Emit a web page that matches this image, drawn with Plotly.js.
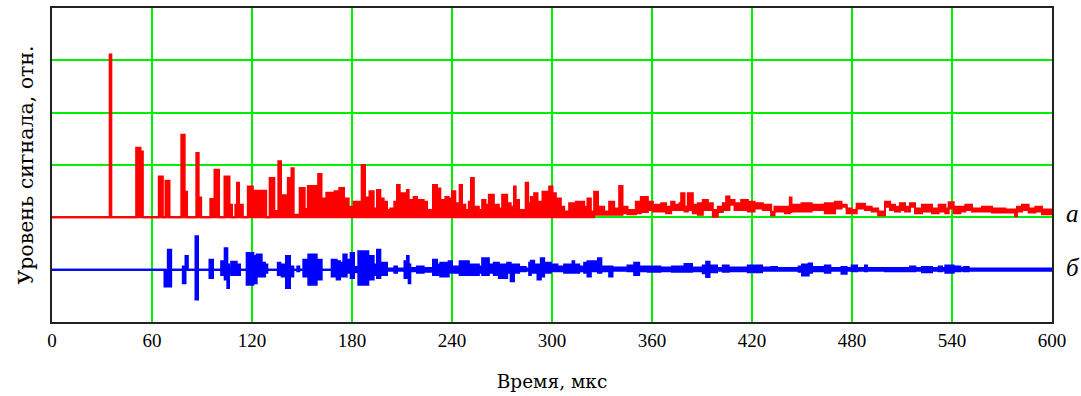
<!DOCTYPE html>
<html>
<head>
<meta charset="utf-8">
<script src="https://cdn.plot.ly/plotly-3.0.1.min.js"></script>
<style>html,body{margin:0;padding:0;background:#fff;}#chart{width:1081px;height:396px;}</style>
</head>
<body>
<div id="chart"></div>
<script>
// Red signal (a): segment start times (µs), upper and lower envelope levels
const redT = [0,34.6,35.6,50.5,53.1,54.5,64.1,66.5,68.1,70.5,77.6,79.6,81,86.6,88,89.5,95,97.5,100.2,103.5,106.5,108,110,111,112.2,114.5,117.5,120.5,128.5,130.6,133.4,135.8,137.4,141.5,143.7,145,148.6,151.6,153.5,159.7,161.7,164.6,169.6,171.5,172.4,175.2,178,181,185.8,187.8,190.5,
193,195,197,199,201,203,205.4,207,208.6,213,214,217,219,223,225,228.6,231,233,236,238,240,242,244.6,246,248,250.1,251.4,253.1,256.1,258.1,260.1,262.1,265.1,268.1,270.1,273.1,
275.2,277.2,278.2,280.2,284.2,285.7,287.3,289.3,291.3,294.3,297.3,298.3,300.3,302.3,305.3,307.3,310.3,314.3,319.3,321.3,323.3,325.3,327.6,331.3,334.3,337.3,340.3,342.3,345.3,350.3,353.3,
357.5,360.5,365.5,368.5,371.5,373.5,376.5,377.5,379.5,381.5,384.5,387.5,390.5,393.5,396.5,399.5,402.5,404.5,406.5,409.5,413.5,417.5,421.5,426.5,431.5,433.5,
439.7,442.7,443.7,449.7,455.8,463.7,469.8,473.7,476.8,479.8,482.8,487.8,491.8,495.7,499.8,502.8,505.8,508.8,511.8,514.8,517.8,
522,528,532,536,538,541,545,548,552,558,564,572,578,579,582,586,590,594];
const redHi = [0,3.11,0,1.33,1.26,0,0.78,0,0.70,0,1.58,0.49,0,1.23,0.38,0,0.35,0.91,0,0.78,0.24,0,0.24,0.66,0.24,0,0.59,0.51,0,0.75,0.12,1.07,0.42,0.75,0.94,0.05,0.56,0.16,0.6,0.83,0.36,0.47,0.5,0.3,0.56,0.36,0.2,0.3,1.0,0.38,0.5,
0.17,0.52,0.36,0.3,0.14,0.17,0.3,0.62,0.46,0.52,0.33,0.39,0.33,0.3,0.14,0.62,0.55,0.33,0.39,0.36,0.5,0.27,0.62,0.24,0.14,0.3,0.75,0.2,0.14,0.33,0.24,0.43,0.24,0.17,0.43,0.27,
0.2,0.59,0.33,0.14,0.66,0.27,0.39,0.46,0.3,0.49,0.36,0.59,0.46,0.36,0.2,0.11,0.27,0.3,0.2,0.36,0.11,0.49,0.2,0.11,0.3,0.17,0.6,0.2,0.14,0.3,0.39,
0.3,0.24,0.27,0.2,0.3,0.24,0.27,0.46,0.2,0.46,0.24,0.27,0.33,0.27,0.14,0.2,0.27,0.4,0.33,0.27,0.33,0.3,0.27,0.24,0.1,0.2,
0.2,0.38,0.24,0.27,0.24,0.27,0.3,0.24,0.17,0.14,0.26,0.2,0.17,0.11,0.3,0.24,0.2,0.27,0.2,0.27,0.17,
0.24,0.17,0.24,0.17,0.29,0.2,0.2,0.24,0.17,0.2,0.17,0.15,0.04,0.2,0.24,0.17,0.2,0.15];
const redLo = [0,0,0,0,0,0,0,0,0,0,0,0,0,0,0,0,0,0,0,0,0,0,0,0,0,0,0,0,0,0,0,0,0,0,0,0,0,0,0,0,0,0,0,0,0,0,0,0,0,0,0,
0,0,0,0,0,0,0,0,0,0,0,0,0,0,0,0,0,0,0,0,0,0,0,0,0,0,0,0,0,0,0,0,0,0,0,0,
0,0,0,0,0,0,0,0,0,0,0,0,0,0,0,0,0,0,0,0,0,0.05,0.05,0.05,0.05,0.05,0.05,0.08,0.06,0.08,0.1,
0.14,0.11,0.11,0.08,0.14,0.14,0.14,0.14,0.11,0.14,0.08,0.05,0.14,0.14,0.01,0.1,0.14,0.14,0.24,0.14,0.14,0.11,0.17,0.14,0.04,0.11,
0.08,0.1,0.11,0.11,0.14,0.08,0.17,0.2,0.08,0.08,0.17,0.14,0.11,0.04,0.2,0.14,0.11,0.14,0.11,0.2,0.08,
0.11,0.08,0.11,0.08,0.17,0.08,0.11,0.14,0.11,0.11,0.09,0.09,0.02,0.11,0.14,0.09,0.11,0.06];

// Blue signal (б): segment start times (µs), excursion above / below its baseline
const blueT = [0,67.5,69.5,71.5,78.5,80.1,81.5,86.1,87.6,94.5,96.6,101.5,103,103.6,105.2,106.2,107.5,
110.8,112.8,116.8,120.8,122.8,125.8,127.8,129.2,135.5,137,137.8,140.4,142.8,144.8,147.2,148.4,150.8,153.8,158.8,161.8,167.8,170.8,172.8,174.8,176.8,179.2,181.2,183.8,189.8,
193,195,197,201,205.4,207,211.5,213,214,215,219,223,228.6,231,233,238,240,244.6,250.1,256.1,258.1,262.1,265.1,268.1,273.1,
275.2,277.2,280.2,284.2,286.3,287.3,289.3,291.3,293.3,295.3,299.3,303.3,307.3,312.3,313.3,316.3,319.3,321.3,323.3,327.6,329.6,334.3,336.3,345.3,349.3,352.3,
357.5,365,372,379.5,384,390.5,392.5,394.5,399,402.5,406,417.5,426,431.5,435,
439.7,448,450,454,456,463.7,467,473.7,476.8,479.8,483,487.8,489,499.8,514.8,518,
522,528,532,534,536,541,545,547,550];
const blueUp = [0,0,0.38,0,0.06,0.26,0,0.64,0,0.19,0,0.16,0.05,0.41,0.1,0.05,0.15,
0.1,0,0.32,0.26,0.29,0.13,0.1,0,0.13,0,0.1,0.26,0.06,0,0.06,0,0.19,0.29,0.19,0,0.19,0.16,0.13,0.29,0.19,0.32,0.05,0.35,0.26,
0.1,0.38,0.13,0.02,0.06,0.02,0.16,0.26,0.1,0.03,0.06,0.03,0.19,0.1,0.13,0.16,0.06,0.16,0.1,0.06,0.22,0.1,0.13,0.1,0.13,
0.1,0.1,0.05,0.02,0.13,0.17,0.1,0.1,0.22,0.13,0.1,0.06,0.1,0.16,0.1,0.06,0.13,0.16,0.16,0.22,0.06,0.06,0.04,0.08,0.13,0.06,
0.06,0.04,0.06,0.11,0.04,0.08,0.15,0.08,0.03,0.08,0.04,0.08,0.04,0.05,0.03,
0.03,0.06,0.1,0.12,0.05,0.08,0.03,0.05,0.03,0.08,0.03,0.08,0.03,0.03,0.06,0.03,
0.05,0.03,0.06,0.03,0.08,0.06,0.03,0.05,0.02];
const blueDn = [0,0.32,0.32,0,0.26,0,0,0.57,0,0.16,0,0.1,0.05,0.19,0.35,0.05,0.1,
0.1,0,0.29,0.26,0.13,0.13,0.06,0,0.1,0,0.13,0.35,0.13,0,0.03,0,0.13,0.29,0.19,0,0.13,0.19,0.13,0.13,0.06,0.16,0.05,0.29,0.19,
0.1,0.16,0.1,0.02,0.06,0.02,0.16,0.1,0.26,0.03,0.06,0.04,0.1,0.1,0.13,0.06,0.06,0.1,0.1,0.06,0.1,0.06,0.1,0.16,0.06,
0.22,0.06,0.03,0.02,0.1,0.06,0.06,0.19,0.13,0.06,0.03,0.03,0.06,0.06,0.06,0.03,0.06,0.13,0.03,0.06,0.03,0.13,0.02,0.03,0.1,0.03,
0.04,0.03,0.04,0.04,0.03,0.07,0.14,0.05,0.02,0.04,0.03,0.05,0.02,0.02,0.02,
0.02,0.04,0.11,0.06,0.03,0.06,0.02,0.08,0.02,0.03,0.02,0.03,0.02,0.03,0.03,0.02,
0.05,0.02,0.03,0.02,0.06,0.03,0.02,0.03,0.02];

const tEnd = 600;
const redBase = 0, blueBase = -1;
const xTicks = [0,60,120,180,240,300,360,420,480,540,600];

function stepXY(T, V, base, sign) {
  const x = T.concat([tEnd]);
  const y = V.map(v => base + sign * v);
  y.push(y[y.length - 1]);
  return {x, y};
}

const rLo = stepXY(redT, redLo, redBase, 1);
const rHi = stepXY(redT, redHi, redBase, 1);
const bDn = stepXY(blueT, blueDn, blueBase, -1);
const bUp = stepXY(blueT, blueUp, blueBase, 1);

const RED = '#ff0000', BLUE = '#0000ff';
const LW = 2;
const data = [
  {x: rLo.x, y: rLo.y, mode: 'lines', line: {shape: 'hv', color: RED, width: LW}, hoverinfo: 'skip'},
  {x: rHi.x, y: rHi.y, mode: 'lines', line: {shape: 'hv', color: RED, width: LW}, fill: 'tonexty', fillcolor: RED, hoverinfo: 'skip'},
  {x: bDn.x, y: bDn.y, mode: 'lines', line: {shape: 'hv', color: BLUE, width: LW}, hoverinfo: 'skip'},
  {x: bUp.x, y: bUp.y, mode: 'lines', line: {shape: 'hv', color: BLUE, width: LW}, fill: 'tonexty', fillcolor: BLUE, hoverinfo: 'skip'}
];

const FONT = 'Liberation Serif, Times New Roman, serif';
const TFONT = 'DejaVu Serif, Liberation Serif, serif';
const layout = {
  width: 1081, height: 396,
  margin: {l: 52, r: 29, t: 8, b: 74},
  paper_bgcolor: '#fff', plot_bgcolor: '#fff',
  showlegend: false,
  font: {family: FONT, color: '#000', size: 17},
  xaxis: {
    range: [0, 600], tickvals: xTicks, ticktext: xTicks.map(String),
    showgrid: true, gridcolor: '#00ee00', gridwidth: 2,
    zeroline: false, showline: true, mirror: true, linecolor: '#222', linewidth: 2,
    ticks: '', tickfont: {family: FONT, size: 19, color: '#000'},
    title: {text: 'Время, мкс', font: {family: TFONT, size: 18.5, color: '#000'}, standoff: 25}
  },
  yaxis: {
    range: [-2, 4], dtick: 1, tick0: 0,
    showgrid: true, gridcolor: '#00ee00', gridwidth: 2,
    zeroline: false, showline: true, mirror: true, linecolor: '#222', linewidth: 2,
    showticklabels: false, ticks: '',
    title: {text: 'Уровень сигнала, отн.', font: {family: TFONT, size: 20.5, color: '#000'}, standoff: 11}
  },
  annotations: [
    {xref: 'paper', yref: 'y', x: 1.012, y: redBase + 0.08, text: 'а', showarrow: false, xanchor: 'left', yanchor: 'middle', font: {family: FONT, size: 25, color: '#000', style: 'italic'}},
    {xref: 'paper', yref: 'y', x: 1.012, y: blueBase + 0.05, text: 'б', showarrow: false, xanchor: 'left', yanchor: 'middle', font: {family: FONT, size: 25, color: '#000', style: 'italic'}}
  ]
};

Plotly.newPlot('chart', data, layout, {staticPlot: true, displayModeBar: false});
</script>
</body>
</html>
